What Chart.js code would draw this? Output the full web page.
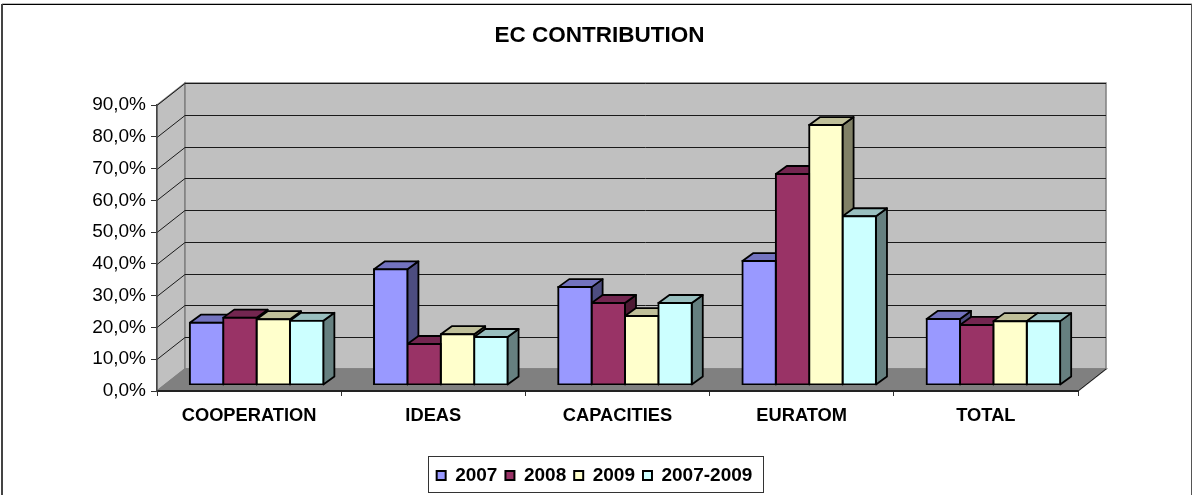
<!DOCTYPE html>
<html>
<head>
<meta charset="utf-8">
<title>EC CONTRIBUTION</title>
<script src="https://cdn.jsdelivr.net/npm/chart.js@4"></script>
<style>
  html, body { margin: 0; background: #fff; }
  canvas { display: block; }
</style>
</head>
<body>
<canvas id="ecChart" width="1192" height="495"></canvas>
<script>
const categories = ['COOPERATION', 'IDEAS', 'CAPACITIES', 'EURATOM', 'TOTAL'];
const values2007 = [19.6, 36.4, 30.8, 39.0, 20.8];
const values2008 = [21.2, 12.9, 25.8, 66.4, 18.9];
const values2009 = [20.7, 16.0, 21.7, 81.8, 20.1];
const values2007to2009 = [20.2, 15.1, 25.8, 53.1, 20.1];

const fonts = 'Liberation Sans';

// Front face / top face / side face of each series
const seriesColors = [
  { front: '#9999FF', top: '#7373BF', side: '#4D4D80' },
  { front: '#993366', top: '#732650', side: '#4D1A33' },
  { front: '#FFFFCC', top: '#BFBF99', side: '#808066' },
  { front: '#CCFFFF', top: '#99BFBF', side: '#668080' }
];

// Depth of the box (back wall offset), of the bars, and where the bars stand on the floor
const wallDx = 28, wallDy = 22;
const barDx = 11, barDy = 8;
const floorDx = 7.5, floorDy = 6;

function face(ctx, points, fill) {
  ctx.beginPath();
  points.forEach((p, i) => i ? ctx.lineTo(p[0], p[1]) : ctx.moveTo(p[0], p[1]));
  ctx.closePath();
  if (fill) {
    ctx.fillStyle = fill;
    ctx.fill();
  }
  ctx.stroke();
}

// Walls, floor and the grid lines behind the bars
const wallsPlugin = {
  id: 'walls',
  beforeDraw(chart) {
    const { ctx, chartArea: a, scales } = chart;
    const bx = a.left + wallDx, bt = a.top - wallDy, bb = a.bottom - wallDy, br = a.right + wallDx;
    ctx.save();
    ctx.lineWidth = 1.5;
    ctx.strokeStyle = '#808080';
    face(ctx, [[a.left, a.top], [bx, bt], [bx, bb], [a.left, a.bottom]], '#C0C0C0');
    face(ctx, [[bx, bt], [br, bt], [br, bb], [bx, bb]], '#C0C0C0');
    face(ctx, [[a.left, a.bottom], [bx, bb], [br, bb], [a.right, a.bottom]], '#808080');

    ctx.lineWidth = 1;
    ctx.strokeStyle = '#1a1a1a';
    scales.y.ticks.forEach(t => {
      if (t.value === 0) return;
      const y = Math.round(scales.y.getPixelForValue(t.value)) + 0.5;
      ctx.beginPath();
      ctx.moveTo(a.left, y);
      ctx.lineTo(bx, y - wallDy);
      ctx.lineTo(br, y - wallDy);
      ctx.stroke();
    });
    ctx.beginPath();
    ctx.moveTo(a.right, a.bottom);
    ctx.lineTo(br, bb);
    ctx.stroke();
    ctx.restore();
  }
};

// Side and top of every bar, and the shift of the bars onto the floor.
// Faces go left to right so that a bar covers the side of its left neighbour.
const barDepthPlugin = {
  id: 'barDepth',
  beforeDatasetsDraw(chart) {
    const { ctx } = chart;
    ctx.save();
    ctx.translate(floorDx, -floorDy);
    ctx.save();
    ctx.lineWidth = 1.8;
    ctx.lineJoin = 'round';
    ctx.strokeStyle = '#000';
    categories.forEach((c, i) => {
      seriesColors.forEach((colors, s) => {
        const bar = chart.getDatasetMeta(s).data[i];
        const l = bar.x - bar.width / 2, r = bar.x + bar.width / 2;
        face(ctx, [[r, bar.y], [r + barDx, bar.y - barDy], [r + barDx, bar.base - barDy], [r, bar.base]], colors.side);
        face(ctx, [[l, bar.y], [l + barDx, bar.y - barDy], [r + barDx, bar.y - barDy], [r, bar.y]], colors.top);
      });
    });
    ctx.restore();
  },
  afterDatasetsDraw(chart) {
    chart.ctx.restore();
  }
};

// Title and legend do not sit over the plot, they are centred on the outer frame
const framePlugin = {
  id: 'frame',
  afterLayout(chart) {
    chart.titleBlock.left += 60.5;
    chart.titleBlock.right += 60.5;
    chart.legend.left += 55.5;
    chart.legend.right += 55.5;
  },
  afterDraw(chart) {
    const { ctx, width, height } = chart;
    ctx.save();
    ctx.fillStyle = '#bbb';
    ctx.fillRect(2, 3, width - 2, 1);
    ctx.fillStyle = '#000';
    ctx.fillRect(2, 4, width - 3, 1);
    ctx.fillStyle = '#444';
    ctx.fillRect(1, 4, 2, height - 4);
    ctx.fillStyle = '#555';
    ctx.fillRect(width - 1, 4, 1, height - 4);

    ctx.strokeStyle = '#333';
    ctx.lineWidth = 1;
    ctx.strokeRect(428.5, 456.5, 335, 36);
    ctx.restore();
  }
};

function makeDataset(label, data, i) {
  return {
    label: label,
    data: data,
    backgroundColor: seriesColors[i].front,
    borderColor: '#000',
    borderWidth: 2,
    borderSkipped: false,
    inflateAmount: 1,
    categoryPercentage: 0.725,
    barPercentage: 1
  };
}

new Chart(document.getElementById('ecChart'), {
  type: 'bar',
  data: {
    labels: categories,
    datasets: [
      makeDataset('2007', values2007, 0),
      makeDataset('2008', values2008, 1),
      makeDataset('2009', values2009, 2),
      makeDataset('2007-2009', values2007to2009, 3)
    ]
  },
  plugins: [wallsPlugin, barDepthPlugin, framePlugin],
  options: {
    responsive: false,
    animation: false,
    layout: { padding: { left: 0, right: 114, top: 0, bottom: 0 } },
    plugins: {
      title: {
        display: true,
        text: 'EC CONTRIBUTION',
        color: '#000',
        font: { family: fonts, size: 22.5, weight: 'bold', lineHeight: 1.2 },
        padding: { top: 22.5, bottom: 55.5 }
      },
      legend: {
        position: 'bottom',
        labels: {
          color: '#000',
          font: { family: fonts, size: 19, weight: 'bold' },
          boxWidth: 9,
          boxHeight: 9,
          padding: 8
        }
      },
      tooltip: { enabled: false }
    },
    scales: {
      x: {
        grid: { offset: true, drawOnChartArea: false, color: '#333', tickLength: 5 },
        border: { color: '#222', width: 2 },
        ticks: {
          color: '#000',
          font: { family: fonts, size: 18.3, weight: 'bold' },
          padding: 9,
          maxRotation: 0
        },
        afterFit(scale) {
          scale.height = 495 - scale.chart.legend.height - 391;
        }
      },
      y: {
        min: 0,
        max: 90,
        grid: { drawOnChartArea: false, color: '#333', tickLength: 6 },
        border: { color: '#444', width: 1.5 },
        ticks: {
          stepSize: 10,
          color: '#000',
          padding: 5,
          font: { family: fonts, size: 19 },
          callback: v => v.toFixed(1).replace('.', ',') + '%'
        },
        afterFit(scale) {
          scale.width = 157;
        }
      }
    }
  }
});
</script>
</body>
</html>
